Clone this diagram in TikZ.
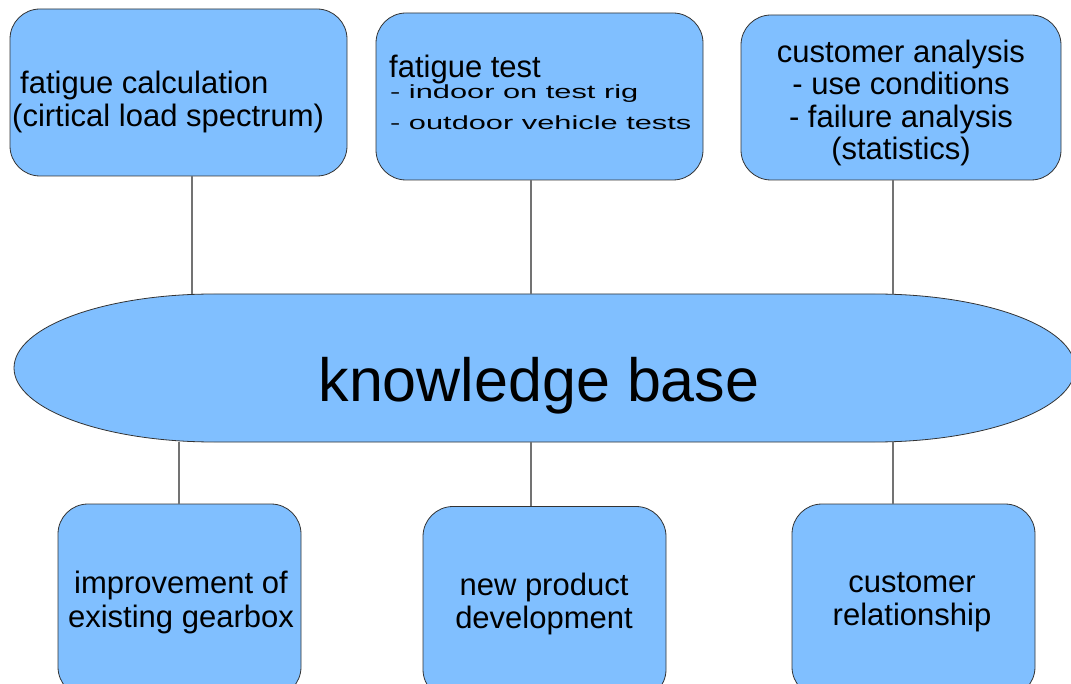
\documentclass[tikz,border=0pt]{standalone}
\usepackage{fontspec}
\setmainfont{Liberation Sans}
\newfontfamily\widefont[FakeStretch=1.62]{Liberation Sans}
\definecolor{boxblue}{HTML}{80BFFF}
\tikzset{
    box/.style={draw=black!80, line width=0.8pt, fill=boxblue, rounded corners=30pt, inner sep=0pt},
    link/.style={draw=black!55, line width=1.3pt},
    txt/.style={font=\fontsize{31}{33.5}\selectfont, inner sep=0pt},
    small/.style={font=\widefont\fontsize{19}{31}\selectfont, inner sep=0pt},
}
\begin{document}
\begin{tikzpicture}[x=1pt,y=-1pt]
            \useasboundingbox (0,0) rectangle (1071,684);
            \clip (0,0) rectangle (1071,684);
            % knowledge base
            \draw [box, rounded corners=0pt] (214,294)--(875,294) arc[start angle=90, end angle=-90, x radius=200pt, y radius=74pt]
                --(214,442) arc[start angle=270, end angle=90, x radius=200pt, y radius=74pt]--cycle;
            \node [font=\fontsize{61}{70}\selectfont, inner sep=0pt, anchor=base] (kb) at(539,401.5) {knowledge base};
            \coordinate (kbtop) at(545,294);
            \coordinate (kbbot) at(545,442);
            % upper boxes
            \node [box, minimum width=337pt, minimum height=167pt] (calc) at(178.5,92.5) {};
            \node [box, minimum width=327pt, minimum height=167pt] (test) at(539.5,96.5) {};
            \node [box, minimum width=320pt, minimum height=165pt] (cust) at(901,97.5) {};
            \node [txt, align=left, anchor=base west] (calctxt) at(12,127) {\hspace{8pt}fatigue calculation\\(cirtical load spectrum)};
            \node [txt, anchor=base west] (testtxt) at(389,78) {fatigue test};
            \node [small, anchor=base west] (rig) at(390,99) {- indoor on test rig};
            \node [small, anchor=base west] (veh) at(390,130) {- outdoor vehicle tests};
            \node [txt, font=\fontsize{31}{32.5}\selectfont, align=center, anchor=base] (custtxt) at(901,160) {customer analysis\\- use conditions\\- failure analysis\\(statistics)};
            % lower boxes
            \node [box, minimum width=243pt, minimum height=193pt] (imp) at(179.5,600.5) {};
            \node [box, minimum width=243pt, minimum height=193pt] (newp) at(544.5,603) {};
            \node [box, minimum width=243pt, minimum height=193pt] (rel) at(913.5,600.5) {};
            \node [txt, align=center, anchor=base] (imptxt) at(181,627) {improvement of\\existing gearbox};
            \node [txt, align=center, anchor=base] (newtxt) at(544,628.5) {new product\\development};
            \node [txt, align=center, anchor=base] (reltxt) at(912,625.5) {customer\\relationship};
            % connectors
            \coordinate (c1) at([xshift=13.5pt]calc.south);
            \coordinate (c2) at([xshift=-8.5pt]test.south);
            \coordinate (c3) at([xshift=-8pt]cust.south);
            \coordinate (c4) at([xshift=-0.5pt]imp.north);
            \coordinate (c5) at([xshift=-13.5pt]newp.north);
            \coordinate (c6) at([xshift=-20.5pt]rel.north);
            \draw [link] (c1)--(c1 |- kbtop);
            \draw [link] (c2)--(c2 |- kbtop);
            \draw [link] (c3)--(c3 |- kbtop);
            \draw [link] (c4 |- kbbot)--(c4);
            \draw [link] (c5 |- kbbot)--(c5);
            \draw [link] (c6 |- kbbot)--(c6);
        \end{tikzpicture}
\end{document}
